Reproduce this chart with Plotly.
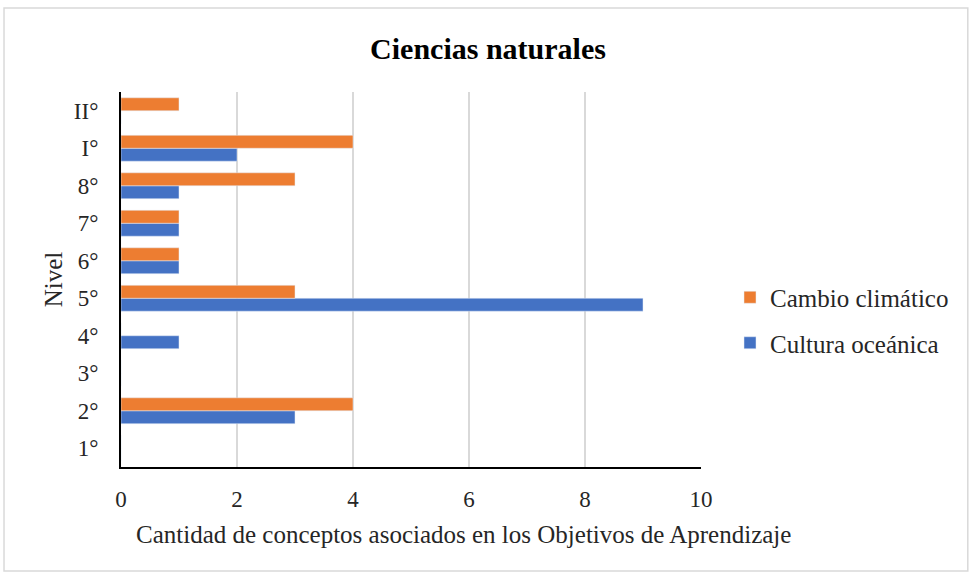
import plotly.graph_objects as go

niveles = ["1°", "2°", "3°", "4°", "5°", "6°", "7°", "8°", "I°", "II°"]
cultura_oceanica = [0, 3, 0, 1, 9, 1, 1, 1, 2, 0]
cambio_climatico = [0, 4, 0, 0, 3, 1, 1, 3, 4, 1]
titulo_x = "Cantidad de conceptos asociados en los Objetivos de Aprendizaje"

FONT = "Liberation Serif"

fig = go.Figure()
fig.add_trace(go.Bar(
    y=niveles, x=cultura_oceanica, orientation="h",
    name="Cultura oceánica", marker_color="#4472C4",
    legendgroup="a", legendrank=2,
))
fig.add_trace(go.Bar(
    y=niveles, x=cambio_climatico, orientation="h",
    name="Cambio climático", marker_color="#ED7D31",
    legendgroup="b", legendrank=1,
))

fig.update_layout(
    width=976, height=574,
    margin=dict(l=121, r=275, t=92, b=107, autoexpand=False),
    paper_bgcolor="white", plot_bgcolor="white",
    font=dict(family=FONT, size=23, color="#262626"),
    barmode="group", bargap=0.31, bargroupgap=0,
    title=dict(text="<b>Ciencias naturales</b>", x=0.5, xanchor="center",
               y=0.915, yanchor="middle",
               font=dict(family=FONT, size=30, color="black")),
    legend=dict(x=1.05, y=0.392, xanchor="left", yanchor="middle",
                traceorder="grouped", tracegroupgap=10,
                font=dict(family=FONT, size=25, color="#262626")),
    shapes=[dict(type="rect", xref="paper", yref="paper",
                 x0=-0.2017, x1=1.46, y0=-0.277, y1=1.224,
                 line=dict(color="#d9d9d9", width=1.5))],
    annotations=[dict(text=titulo_x, xref="paper", yref="paper",
                      x=0.59, y=-0.179, xanchor="center", yanchor="middle",
                      showarrow=False, font=dict(family=FONT, size=25))],
)
fig.update_xaxes(
    range=[0, 10], dtick=2, showgrid=True, gridcolor="#d9d9d9", gridwidth=1.5,
    showline=True, linecolor="black", linewidth=2, zeroline=False,
    ticks="", ticklabelstandoff=10,
)
fig.update_yaxes(
    showgrid=False, showline=True, linecolor="black", linewidth=2,
    ticks="", ticklabelstandoff=16,
    title=dict(text="Nivel", standoff=4, font=dict(family=FONT, size=25)),
)

fig.write_html("out.html", config={"displayModeBar": False},
               post_script="document.body.style.margin='0';")
